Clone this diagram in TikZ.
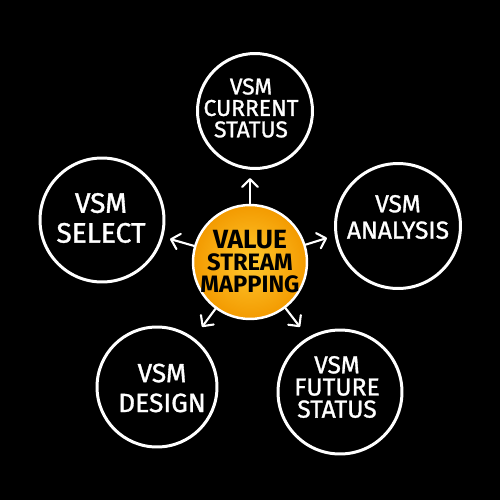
\documentclass[tikz,border=0pt]{standalone}
\usepackage{fontspec}
\setmainfont{Fira Sans}
\newfontfamily\mk{Fira Sans}[FakeBold=1.2]
\usetikzlibrary{arrows.meta}
\definecolor{orin}{HTML}{FFC82E}
\definecolor{orout}{HTML}{F39A00}
\begin{document}
\begin{tikzpicture}[x=0.02cm,y=-0.02cm,
  ring/.style={circle,draw=white,line width=1.7pt,inner sep=0pt},
  lbl/.style={text=white,align=center,inner sep=0pt},
  arr/.style={draw=white,line width=1.2pt,line cap=round,
    -{Straight Barb[length=4.5pt,width=9pt,line cap=round,line join=round]}}]
\fill[black] (0,0) rectangle (500,500);
\useasboundingbox (0,0) rectangle (500,500);
% centre
\node[circle,inner color=orin,outer color=orout,draw=white,line width=1.4pt,
  minimum size=2.28cm,inner sep=0pt] (c) at (250,262) {};
\node[align=center,inner sep=0pt,text=black,font=\bfseries\fontsize{13.5}{12.5}\selectfont] (ct) at (250,262)
  {{\fontsize{15}{12.5}\selectfont VALUE}\\STREAM\\MAPPING};
% outer rings
\node[ring,minimum size=2.30cm] (top) at (255,111) {};
\node[ring,minimum size=2.48cm] (sel) at (102,220) {};
\node[ring,minimum size=2.50cm] (ana) at (398,226) {};
\node[ring,minimum size=2.40cm] (des) at (157,387) {};
\node[ring,minimum size=2.48cm] (fut) at (340,392) {};
% labels
\node[lbl,font=\mk\fontsize{13}{12.2}\selectfont] (topt) at (251,108) {VSM\\CURRENT\\STATUS};
\node[lbl,font=\mk\fontsize{16}{17}\selectfont] (selt) at (101,218) {VSM\\SELECT};
\node[lbl,font=\mk\fontsize{14}{15}\selectfont] (anat) at (398,217) {VSM\\ANALYSIS};
\node[lbl,font=\mk\fontsize{15}{17}\selectfont] (dest) at (162,388) {VSM\\DESIGN};
\node[lbl,font=\mk\fontsize{14}{12.6}\selectfont] (futt) at (337,387) {VSM\\FUTURE\\STATUS};
% arrow tips
\coordinate (a1) at (250,178);
\coordinate (a2) at (170,239);
\coordinate (a3) at (327,238);
\coordinate (a4) at (202,327);
\coordinate (a5) at (300,327);
\draw[arr] (c) -- (a1);
\draw[arr] (c) -- (a2);
\draw[arr] (c) -- (a3);
\draw[arr] (c) -- (a4);
\draw[arr] (c) -- (a5);
\end{tikzpicture}
\end{document}
